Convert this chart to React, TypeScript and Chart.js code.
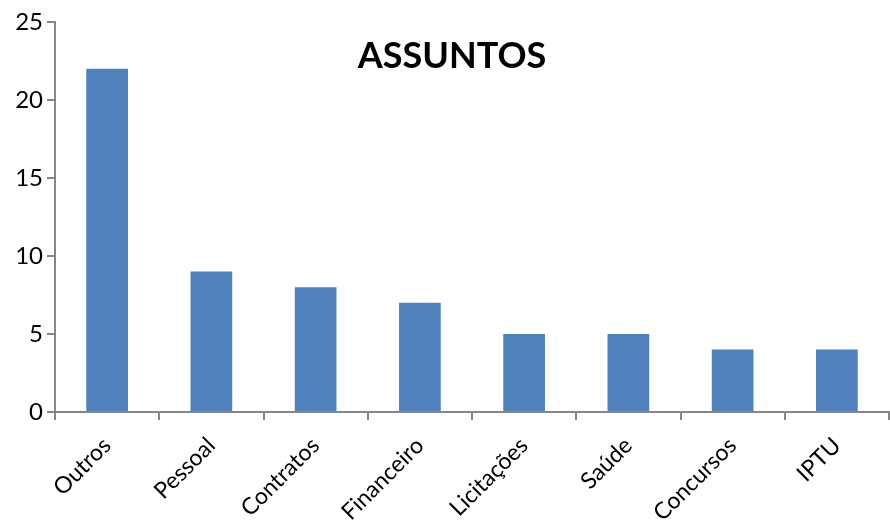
import React, { useEffect, useRef } from "react";
import { Chart, registerables } from "chart.js";

Chart.register(...registerables);

const categories = ["Outros", "Pessoal", "Contratos", "Financeiro", "Licitações", "Saúde", "Concursos", "IPTU"];
const values = [22, 9, 8, 7, 5, 5, 4, 4];
const titleText = "ASSUNTOS";

const FONT = "Lato, 'Open Sans', sans-serif";

const titlePlugin = {
  id: "overlayTitle",
  afterDraw(chart: any) {
    const ctx = chart.ctx;
    ctx.save();
    ctx.font = `bold 36px ${FONT}`;
    ctx.fillStyle = "#000000";
    ctx.textAlign = "center";
    ctx.textBaseline = "middle";
    ctx.fillText(titleText, 452, 56);
    ctx.restore();
  },
};

export default function App() {
  const ref = useRef<HTMLCanvasElement | null>(null);
  useEffect(() => {
    if (!ref.current) return;
    const chart = new Chart(ref.current, {
      type: "bar",
      data: {
        labels: categories,
        datasets: [
          {
            data: values,
            backgroundColor: "#4F81BD",
            categoryPercentage: 1,
            barPercentage: 0.4,
          },
        ],
      },
      plugins: [titlePlugin],
      options: {
        animation: false,
        responsive: false,
        maintainAspectRatio: false,
        layout: { padding: { top: 22, right: 1, left: 0, bottom: 0 } },
        plugins: { legend: { display: false }, tooltip: { enabled: false }, title: { display: false } },
        scales: {
          x: {
            offset: true,
            grid: {
              offset: true,
              drawOnChartArea: false,
              drawTicks: true,
              tickLength: 8,
              color: "#868686",
              lineWidth: 2,
            },
            border: { color: "#868686", width: 2 },
            ticks: {
              minRotation: 45,
              maxRotation: 45,
              color: "#000000",
              font: { family: FONT, size: 23 },
              padding: 12,
            },
            afterFit(scale: any) {
              scale.height = 116;
            },
          },
          y: {
            min: 0,
            max: 25,
            grid: {
              drawOnChartArea: false,
              drawTicks: true,
              tickLength: 8,
              color: "#868686",
              lineWidth: 2,
            },
            border: { color: "#868686", width: 2 },
            ticks: {
              stepSize: 5,
              color: "#000000",
              font: { family: FONT, size: 24 },
              padding: 4,
            },
            afterFit(scale: any) {
              scale.width = 55;
            },
          },
        },
      },
    });
    return () => chart.destroy();
  }, []);
  return (
    <div style={{ position: "fixed", left: 0, top: 0, width: 890, height: 528, background: "#ffffff" }}>
      <canvas ref={ref} width={890} height={528} style={{ width: 890, height: 528 }} />
    </div>
  );
}
